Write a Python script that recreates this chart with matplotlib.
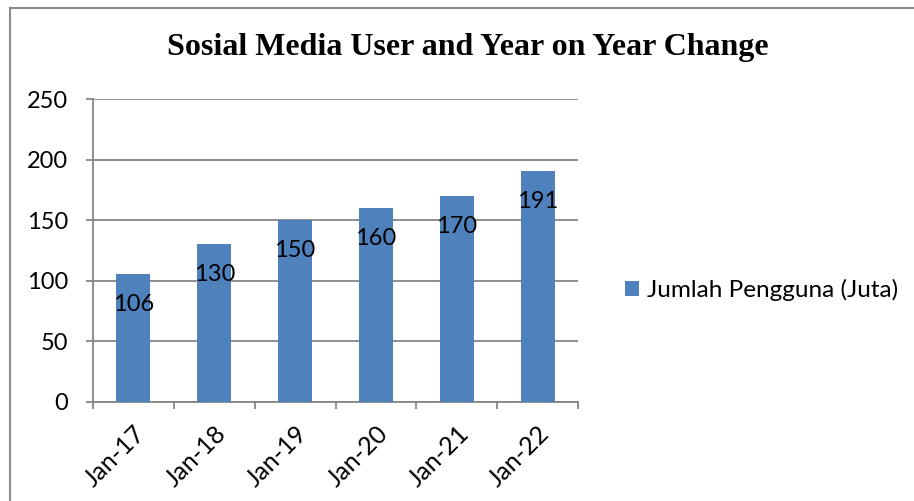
import matplotlib
matplotlib.use("Agg")
import matplotlib.pyplot as plt
import matplotlib.transforms as mtransforms
from matplotlib.lines import Line2D
from matplotlib.patches import Patch

categories = ["Jan-17", "Jan-18", "Jan-19", "Jan-20", "Jan-21", "Jan-22"]
values = [106, 130, 150, 160, 170, 191]
series_name = "Jumlah Pengguna (Juta)"
title = "Sosial Media User and Year on Year Change"
yticks = [0, 50, 100, 150, 200, 250]

W, H = 914, 501
fig = plt.figure(figsize=(W / 100, H / 100), dpi=100)
fig.patch.set_facecolor("white")

# outer chart border (only left and top visible)
fig.add_artist(Line2D([10 / W, 10 / W], [0, 1 - 8 / H], color="#8c8c8c", lw=1.5, transform=fig.transFigure))
fig.add_artist(Line2D([10 / W, 1], [1 - 8 / H, 1 - 8 / H], color="#8c8c8c", lw=1.5, transform=fig.transFigure))

x0, x1 = 93, 578
ytop, ybot = 99, 402
ax = fig.add_axes([x0 / W, 1 - ybot / H, (x1 - x0) / W, (ybot - ytop) / H])

font = "Lato"
fs = 17
pos = list(range(len(categories)))
bars = ax.bar(pos, values, width=0.42, color="#4f81bd", zorder=3)
ax.set_xlim(-0.5, len(categories) - 0.5)
ax.set_ylim(0, 250)
ax.set_yticks(yticks)
ax.set_yticklabels([str(v) for v in yticks], fontsize=fs, family=font)
ax.yaxis.grid(True, color="#868686", lw=1.3, zorder=0)
ax.set_xticks([p - 0.5 for p in pos] + [len(categories) - 0.5])
ax.set_xticklabels([])
ax.set_xticks(pos, minor=True)
ax.set_xticklabels(categories, minor=True, rotation=45, ha="right", rotation_mode="anchor",
                   fontsize=18, family=font)
offset = mtransforms.ScaledTranslation(5 / 100, 0, fig.dpi_scale_trans)
for lab in ax.get_xticklabels(minor=True):
    lab.set_transform(lab.get_transform() + offset)
ax.tick_params(axis="x", which="minor", length=0, pad=14)
ax.tick_params(axis="x", which="major", length=5, color="#868686", width=1.3, direction="out")
ax.tick_params(axis="y", length=5, color="#868686", width=1.3, pad=13)
for s in ["top", "right"]:
    ax.spines[s].set_visible(False)
for s in ["left", "bottom"]:
    ax.spines[s].set_color("#868686")
    ax.spines[s].set_linewidth(1.3)

for p, v in zip(pos, values):
    ax.annotate(str(v), (p, v), xytext=(0, -22), textcoords="offset points",
                ha="center", va="center", fontsize=fs, family=font, color="black", zorder=4)

fig.text((168 + 768) / 2 / W, 1 - 48 / H, title, ha="center", va="center",
         fontsize=23, fontweight="bold", family="Liberation Serif")

fig.legend(handles=[Patch(facecolor="#4f81bd", label=series_name)],
           loc="center left", bbox_to_anchor=(603 / W, 1 - 290 / H), frameon=False,
           prop={"family": font, "size": 17.5}, handlelength=0.6, handleheight=0.6, handletextpad=0.3)

fig.savefig("out.png", dpi=100)
